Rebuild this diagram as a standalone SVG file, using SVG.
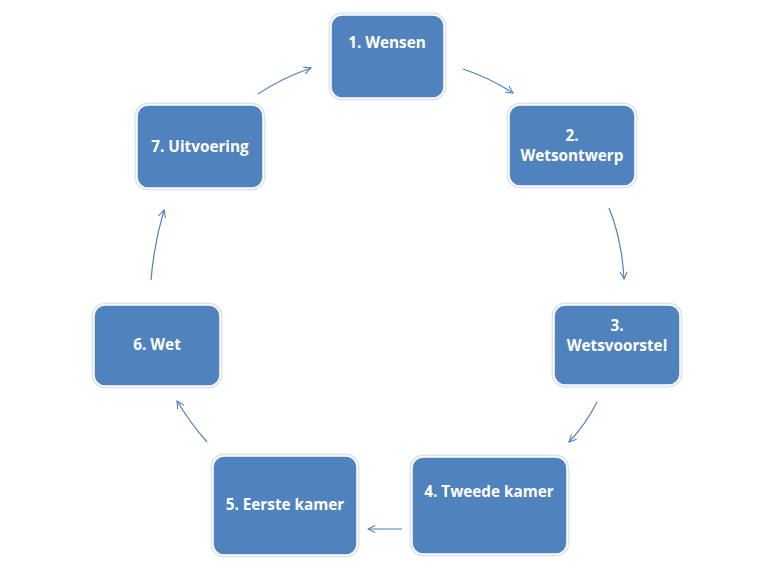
<svg xmlns="http://www.w3.org/2000/svg" width="768" height="576" viewBox="0 0 768 576">
<defs>
<style>
.box{fill:#5082be;stroke:#ffffff;stroke-width:1.5}
.sh{fill:none;stroke:#e1e5eb;stroke-width:3}
.t{fill:#ffffff;font-family:"Open Sans","Liberation Sans",sans-serif;font-weight:bold;font-size:15.3px;text-anchor:middle}
.c{fill:none;stroke:#4f81bd;stroke-width:1.2}
</style>
<marker id="ah" viewBox="0 0 10 10" refX="9" refY="5" markerWidth="9" markerHeight="9" markerUnits="userSpaceOnUse" orient="auto">
<path d="M1,1 L9,5 L1,9" fill="none" stroke="#4f81bd" stroke-width="1.2"/>
</marker>
</defs>
<rect width="768" height="576" fill="#ffffff"/>
<g id="connectors">
<path class="c" d="M463,69 Q490,78 513,93" marker-end="url(#ah)"/>
<path class="c" d="M609,208 Q622,240 624,279" marker-end="url(#ah)"/>
<path class="c" d="M597,402 Q586,424 569,442" marker-end="url(#ah)"/>
<path class="c" d="M402,529 L368,529" marker-end="url(#ah)"/>
<path class="c" d="M207,442 Q191,424 177,401" marker-end="url(#ah)"/>
<path class="c" d="M151,280 Q154,244 164,210" marker-end="url(#ah)"/>
<path class="c" d="M258,94 Q282,78 311,68" marker-end="url(#ah)"/>
</g>
<g id="n1">
<rect class="sh" x="330" y="14" width="115" height="85" rx="12"/>
<rect class="box" x="331" y="15" width="113" height="83" rx="11"/>
<text class="t" x="387" y="48">1. Wensen</text>
</g>
<g id="n2">
<rect class="sh" x="508" y="104" width="128" height="83" rx="12"/>
<rect class="box" x="509" y="105" width="126" height="81" rx="11"/>
<text class="t" x="572" y="141">2.</text>
<text class="t" x="572" y="161">Wetsontwerp</text>
</g>
<g id="n3">
<rect class="sh" x="553" y="304" width="128" height="82" rx="12"/>
<rect class="box" x="554" y="305" width="126" height="80" rx="11"/>
<text class="t" x="617" y="331">3.</text>
<text class="t" x="617" y="351">Wetsvoorstel</text>
</g>
<g id="n4">
<rect class="sh" x="411" y="456" width="157" height="99" rx="12"/>
<rect class="box" x="412" y="457" width="155" height="97" rx="11"/>
<text class="t" x="489" y="497">4. Tweede kamer</text>
</g>
<g id="n5">
<rect class="sh" x="212" y="455" width="146" height="101" rx="12"/>
<rect class="box" x="213" y="456" width="144" height="99" rx="11"/>
<text class="t" x="285" y="510">5. Eerste kamer</text>
</g>
<g id="n6">
<rect class="sh" x="93" y="304" width="128" height="83" rx="12"/>
<rect class="box" x="94" y="305" width="126" height="81" rx="11"/>
<text class="t" x="157" y="350">6. Wet</text>
</g>
<g id="n7">
<rect class="sh" x="136" y="104" width="128" height="85" rx="12"/>
<rect class="box" x="137" y="105" width="126" height="83" rx="11"/>
<text class="t" x="200" y="152">7. Uitvoering</text>
</g>
</svg>
